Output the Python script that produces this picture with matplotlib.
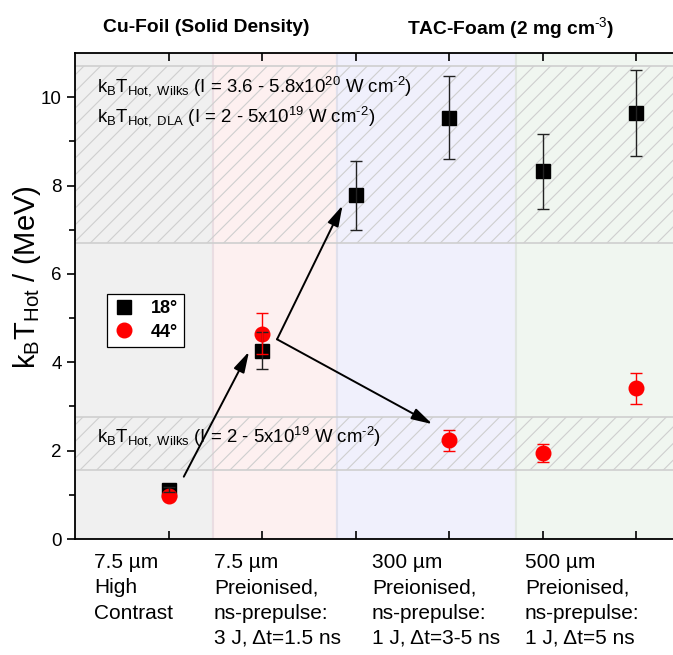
import matplotlib
matplotlib.use("Agg")
import matplotlib.pyplot as plt

plt.rcParams['font.family'] = ['Liberation Sans', 'DejaVu Sans']
plt.rcParams['mathtext.fontset'] = 'custom'
plt.rcParams['mathtext.rm'] = 'Liberation Sans'
plt.rcParams['mathtext.it'] = 'Liberation Sans:italic'
plt.rcParams['mathtext.bf'] = 'Liberation Sans:bold'
plt.rcParams['mathtext.default'] = 'regular'
plt.rcParams['hatch.linewidth'] = 0.8

# data
x_18 = [1, 2, 3, 4, 5, 6]
t_18 = [1.12, 4.26, 7.78, 9.54, 8.32, 9.65]
err_18 = [0.05, 0.42, 0.78, 0.95, 0.84, 0.97]

x_44 = [1, 2, 4, 5, 6]
t_44 = [0.97, 4.65, 2.23, 1.94, 3.41]
err_44 = [0.05, 0.47, 0.23, 0.20, 0.35]

# shaded regions (x ranges) and estimate bands (y ranges)
regions = [(0, 1.48), (1.48, 2.8), (2.8, 4.71), (4.71, 6.5)]
region_colors = ['#f0f0f0', '#fdf0f0', '#f0f0fc', '#f0f6f0']
region_edges = ['#e2dde0', '#eadde2', '#e0e0ec', '#e0e6e0']
band_hi = (6.7, 10.7)
band_lo = (1.56, 2.76)

cat_labels = ["7.5 µm\nHigh\nContrast",
              "7.5 µm\nPreionised,\nns-prepulse:\n3 J, Δt=1.5 ns",
              "300 µm\nPreionised,\nns-prepulse:\n1 J, Δt=3-5 ns",
              "500 µm\nPreionised,\nns-prepulse:\n1 J, Δt=5 ns"]
cat_px = [94, 214, 372, 525]

W, H = 673, 655
fig = plt.figure(figsize=(W / 100, H / 100), dpi=100)
ax = fig.add_axes([75 / W, (H - 539) / H, 608 / W, 486 / H])
ax.set_xlim(0, 6.5)
ax.set_ylim(0, 11)

for (a, b), fc, ec in zip(regions, region_colors, region_edges):
    ax.axvspan(a, b, facecolor=fc, edgecolor=ec, lw=1.5, zorder=0)

for lo, hi in [band_hi, band_lo]:
    ax.axhspan(lo, hi, facecolor='none', edgecolor='#cfcfcf', hatch='//', lw=1.2, zorder=1)

txt = dict(fontsize=13.4, va='baseline', zorder=3)
ax.text(0.24, 10.13, r'k$_B$T$_{Hot,\ Wilks}$ (I = 3.6 - 5.8x10$^{20}$ W cm$^{\text{-}2}$)', **txt)
ax.text(0.24, 9.45, r'k$_B$T$_{Hot,\ DLA}$ (I = 2 - 5x10$^{19}$ W cm$^{\text{-}2}$)', **txt)
ax.text(0.24, 2.2, r'k$_B$T$_{Hot,\ Wilks}$ (I = 2 - 5x10$^{19}$ W cm$^{\text{-}2}$)', **txt)

# arrows
arr = dict(arrowstyle='-|>,head_length=0.9,head_width=0.25', color='black', lw=1.4,
           shrinkA=0, shrinkB=0, mutation_scale=14)
ax.annotate('', xy=(1.86, 4.24), xytext=(1.163, 1.41), arrowprops=arr, zorder=4)
ax.annotate('', xy=(2.86, 7.55), xytext=(2.16, 4.52), arrowprops=arr, zorder=4)
ax.annotate('', xy=(3.82, 2.6), xytext=(2.16, 4.52), arrowprops=arr, zorder=4)

ax.plot(x_18, t_18, 's', color='black', ms=9.5, zorder=5, label='18°')
ax.plot(x_44, t_44, 'o', color='red', ms=10.5, zorder=6, label='44°')
ax.errorbar(x_18, t_18, yerr=err_18, fmt='none', ecolor='#222222', elinewidth=1,
            capsize=4.5, capthick=1, zorder=7)
ax.errorbar(x_44, t_44, yerr=err_44, fmt='none', ecolor='red', elinewidth=1,
            capsize=4.5, capthick=1, zorder=7)

leg = ax.legend(loc='upper left', bbox_to_anchor=(0.052, 0.504), borderaxespad=0,
                fancybox=False, edgecolor='black', framealpha=1,
                prop={'weight': 'bold', 'size': 13}, handletextpad=0.9,
                handlelength=1.2, borderpad=0.35, labelspacing=0.35)
leg.get_frame().set_linewidth(0.9)
leg.set_zorder(8)

ax.set_xticks([1, 2, 3, 4, 5, 6])
ax.set_xticklabels([])
ax.tick_params(axis='x', direction='in', length=6, width=1.2, top=True, bottom=True)
ax.set_yticks([0, 2, 4, 6, 8, 10])
ax.set_yticks([1, 3, 5, 7, 9], minor=True)
ax.tick_params(axis='y', which='major', direction='out', length=6, width=1.2, labelsize=13.5)
ax.tick_params(axis='y', which='minor', direction='out', length=4, width=1.2)
for s in ax.spines.values():
    s.set_linewidth(1.3)

fig.text(27 / W, 1 - 277 / H, r'k$_B$T$_{Hot}$ / (MeV)', rotation=90,
         ha='center', va='center', fontsize=21)

fig.text(206 / W, 1 - 28 / H, 'Cu-Foil (Solid Density)', ha='center', va='center',
         fontsize=13.9, fontweight='bold')
fig.text(511 / W, 1 - 28 / H, r'TAC-Foam (2 mg cm$^{\text{-3}}$)', ha='center', va='center',
         fontsize=13.9, fontweight='bold')

for lab, px in zip(cat_labels, cat_px):
    fig.text(px / W, 1 - 553 / H, lab, ha='left', va='top', fontsize=15, linespacing=1.42)

fig.savefig('out.png', dpi=100)
